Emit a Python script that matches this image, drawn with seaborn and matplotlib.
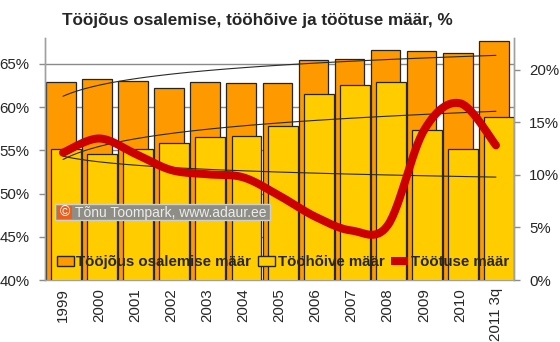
import numpy as np
import matplotlib
matplotlib.use("Agg")
import matplotlib.pyplot as plt
import seaborn as sns
from matplotlib.patches import Patch, Rectangle
from matplotlib.lines import Line2D
from matplotlib.ticker import FuncFormatter

# --- data -----------------------------------------------------------------
years = ["1999", "2000", "2001", "2002", "2003", "2004", "2005",
         "2006", "2007", "2008", "2009", "2010", "2011 3q"]
participation = [62.9, 63.2, 63.0, 62.2, 62.9, 62.85, 62.85,
                 65.45, 65.6, 66.6, 66.5, 66.3, 67.65]
employment = [55.2, 54.6, 55.15, 55.85, 56.6, 56.7, 57.85,
              61.5, 62.6, 62.9, 57.3, 55.15, 58.9]
unemployment = [12.1, 13.45, 12.0, 10.45, 10.05, 9.75, 8.0,
                6.0, 4.7, 5.2, 14.2, 16.8, 12.8]

series_names = ["Tööjõus osalemise määr", "Tööhõive määr", "Töötuse määr"]
title = "Tööjõus osalemise, tööhõive ja töötuse määr, %"
credit = "Tõnu Toompark, www.adaur.ee"

C_ORANGE = "#FF9900"
C_YELLOW = "#FFCC00"
C_RED = "#CC0000"
C_EDGE = "#262626"

# --- helpers --------------------------------------------------------------
def smooth_path(xv, yv, n=30):
    """Bezier smoothing through every point (spreadsheet-style smoothed line)."""
    pts = np.column_stack([xv, yv]).astype(float)
    m = len(pts)
    segs = []
    for i in range(m - 1):
        p0 = pts[max(i - 1, 0)]
        p1 = pts[i]
        p2 = pts[i + 1]
        p3 = pts[min(i + 2, m - 1)]
        c1 = p1 + (p2 - p0) / 6.0
        c2 = p2 - (p3 - p1) / 6.0
        t = np.linspace(0, 1, n, endpoint=(i == m - 2))[:, None]
        segs.append((1 - t) ** 3 * p1 + 3 * (1 - t) ** 2 * t * c1
                    + 3 * (1 - t) * t ** 2 * c2 + t ** 3 * p2)
    s = np.vstack(segs)
    return s[:, 0], s[:, 1]


def log_trend(vals):
    """Logarithmic trend line y = a + b*ln(k), k = 1..n."""
    k = np.arange(1, len(vals) + 1)
    b, a = np.polyfit(np.log(k), np.asarray(vals, float), 1)
    kk = np.linspace(1, len(vals), 120)
    return kk - 1, a + b * np.log(kk)


# --- figure ---------------------------------------------------------------
sns.set_style("white")
plt.rcParams["font.family"] = ["Liberation Sans", "DejaVu Sans"]

fig = plt.figure(figsize=(5.6, 3.42), dpi=100)
ax = fig.add_axes([45 / 560, 62 / 342, 469 / 560, 242 / 342])
ax2 = ax.twinx()

idx = np.arange(len(years))

sns.barplot(x=idx - 0.06, y=participation, native_scale=True, width=0.82,
            color=C_ORANGE, saturation=1, edgecolor=C_EDGE, linewidth=0.9,
            errorbar=None, orient="x", ax=ax, zorder=2)
sns.barplot(x=idx + 0.085, y=employment, native_scale=True, width=0.83,
            color=C_YELLOW, saturation=1, edgecolor=C_EDGE, linewidth=0.9,
            errorbar=None, orient="x", ax=ax, zorder=3)

# trend lines
for vals in (participation, employment):
    tx, ty = log_trend(vals)
    sns.lineplot(x=tx, y=ty, ax=ax, color="#2a2a2a", lw=0.8,
                 estimator=None, sort=False, zorder=4)
tx, ty = log_trend(unemployment)
sns.lineplot(x=tx, y=ty, ax=ax2, color="#2a2a2a", lw=0.8,
             estimator=None, sort=False, zorder=4)

# smoothed unemployment line
sx, sy = smooth_path(idx, unemployment)
sns.lineplot(x=sx, y=sy, ax=ax2, color=C_RED, lw=5.8, estimator=None,
             sort=False, zorder=5, solid_capstyle="round")

# --- axes styling ---------------------------------------------------------
ax.set_xlim(-0.5, len(years) - 0.5)
ax.set_ylim(40, 68)
ax2.set_ylim(0, 23)

ax.set_yticks([40, 45, 50, 55, 60, 65])
ax2.set_yticks([0, 5, 10, 15, 20])
pct = FuncFormatter(lambda v, p: f"{v:.0f}%")
ax.yaxis.set_major_formatter(pct)
ax2.yaxis.set_major_formatter(pct)

ax.set_xticks(idx)
ax.set_xticklabels(years, rotation=90, fontsize=10.8)
ax.set_xticks(np.arange(-0.5, len(years)), minor=True)
ax.tick_params(axis="x", which="major", length=0, pad=6)
ax.tick_params(axis="x", which="minor", length=4, color="#8c8c8c", width=1)
ax.tick_params(axis="y", length=4, color="#8c8c8c", width=1,
               labelsize=10.8, pad=7, left=True)
ax2.tick_params(axis="y", length=4, color="#8c8c8c", width=1,
                labelsize=10.8, pad=7, right=True)
ax.set_xlabel("")
ax.set_ylabel("")
ax2.set_ylabel("")

ax.set_axisbelow(True)
ax.grid(axis="y", color="#8a8a8a", lw=1)
ax.grid(axis="x", visible=False)

for a in (ax, ax2):
    a.spines["top"].set_visible(False)
    for s in ("left", "right", "bottom"):
        a.spines[s].set_color("#a0a0a0")
        a.spines[s].set_linewidth(1)
    a.patch.set_visible(False)
ax2.spines["bottom"].set_visible(False)

# --- legend ---------------------------------------------------------------
handles = [
    Patch(facecolor=C_ORANGE, edgecolor=C_EDGE, lw=1),
    Patch(facecolor=C_YELLOW, edgecolor=C_EDGE, lw=1),
    Line2D([], [], color=C_RED, lw=5.8, solid_capstyle="butt"),
]
ax2.legend(handles, series_names, loc="center", bbox_to_anchor=(0.507, 0.074),
           ncol=3, frameon=False, handlelength=1.15, handleheight=0.6,
           handletextpad=0.15, columnspacing=0.45, borderpad=0,
           prop={"weight": "bold", "size": 10.8})

# --- title and credit -----------------------------------------------------
fig.text(0.46, 1 - 20 / 342, title, ha="center", va="center",
         fontsize=12.3, fontweight="bold")

fig.patches.append(Rectangle((55 / 560, 1 - 220 / 342), 215 / 560, 16 / 342,
                             transform=fig.transFigure, facecolor="#8e8e86",
                             edgecolor="#cfcfcf", lw=1, zorder=6))
fig.patches.append(Rectangle((57 / 560, 1 - 219 / 342), 15 / 560, 13 / 342,
                             transform=fig.transFigure, facecolor="#E8601C",
                             edgecolor="none", zorder=7))
fig.text(64.5 / 560, 1 - 212.5 / 342, "©", ha="center", va="center",
         fontsize=10, color="white", zorder=8)
fig.text(75 / 560, 1 - 212.5 / 342, credit, ha="left", va="center",
         fontsize=10, color="#ececec", zorder=8)

fig.savefig("out.png", dpi=100)
